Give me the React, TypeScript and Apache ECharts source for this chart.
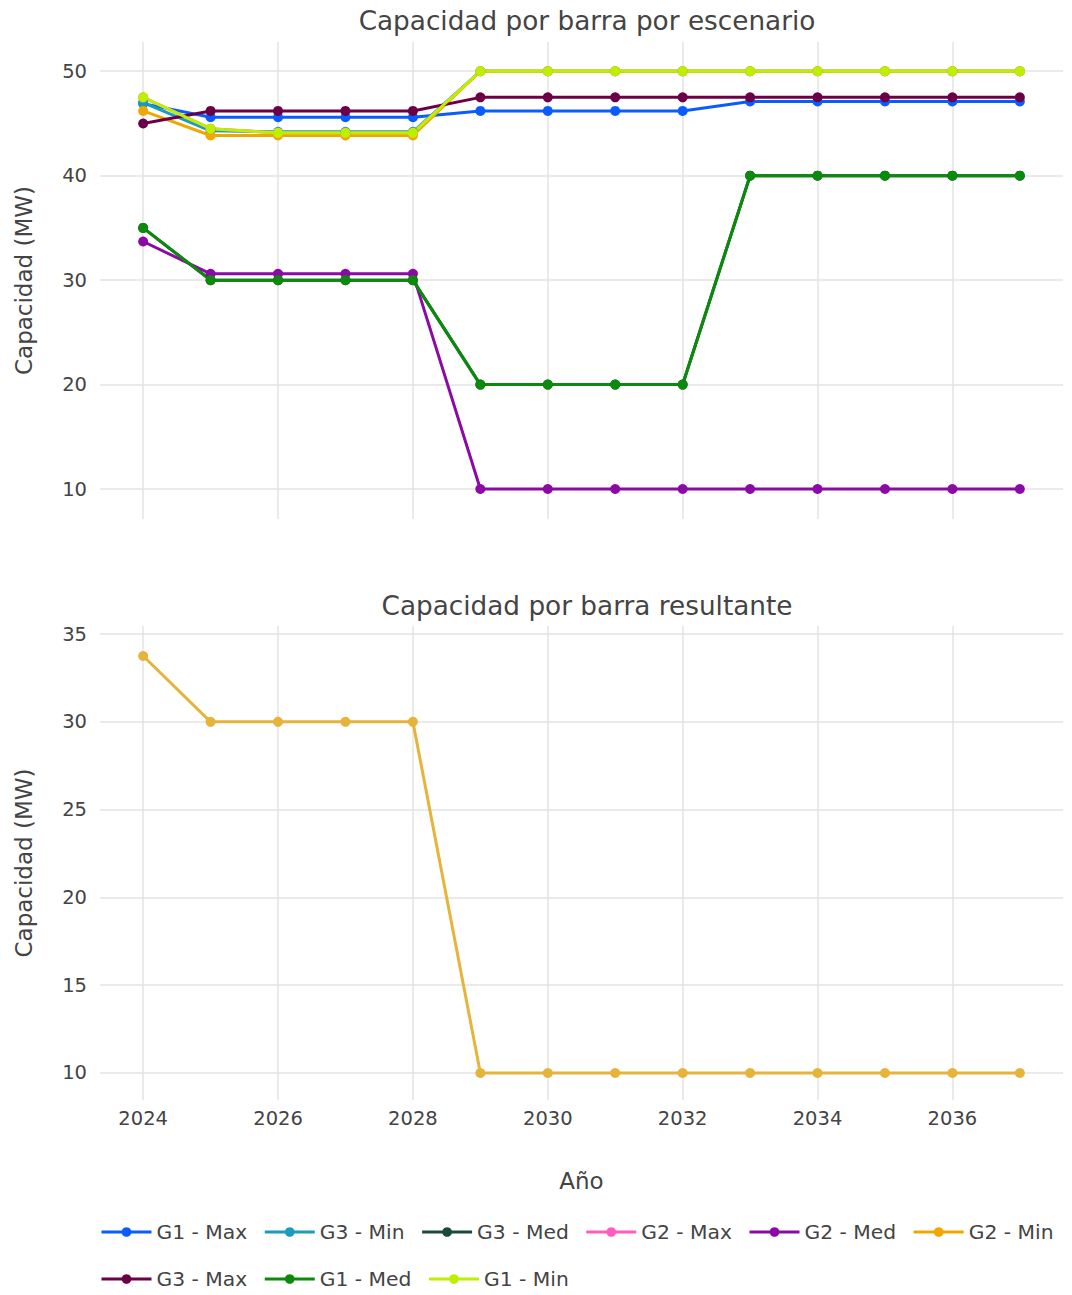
import React, { useEffect, useRef } from "react";
import * as echarts from "echarts";

const years = [2024, 2025, 2026, 2027, 2028, 2029, 2030, 2031, 2032, 2033, 2034, 2035, 2036, 2037];

const g1Max = [46.9, 45.6, 45.6, 45.6, 45.6, 46.2, 46.2, 46.2, 46.2, 47.1, 47.1, 47.1, 47.1, 47.1];
const g3Min = [47.0, 44.3, 44.2, 44.2, 44.2, 50, 50, 50, 50, 50, 50, 50, 50, 50];
const g3Med = [35, 30, 30, 30, 30, 20, 20, 20, 20, 40, 40, 40, 40, 40];
const g2Max = [47.5, 44.5, 44.1, 44.1, 44.1, 50, 50, 50, 50, 50, 50, 50, 50, 50];
const g2Med = [33.7, 30.6, 30.6, 30.6, 30.6, 10, 10, 10, 10, 10, 10, 10, 10, 10];
const g2Min = [46.2, 43.85, 43.85, 43.85, 43.85, 50, 50, 50, 50, 50, 50, 50, 50, 50];
const g3Max = [45.0, 46.2, 46.2, 46.2, 46.2, 47.5, 47.5, 47.5, 47.5, 47.5, 47.5, 47.5, 47.5, 47.5];
const g1Med = [35, 30, 30, 30, 30, 20, 20, 20, 20, 40, 40, 40, 40, 40];
const g1Min = [47.5, 44.5, 44.1, 44.1, 44.1, 50, 50, 50, 50, 50, 50, 50, 50, 50];

const resultante = [33.75, 30, 30, 30, 30, 10, 10, 10, 10, 10, 10, 10, 10, 10];

const scenarioNames = [
  "G1 - Max", "G3 - Min", "G3 - Med", "G2 - Max", "G2 - Med", "G2 - Min",
  "G3 - Max", "G1 - Med", "G1 - Min",
];
const scenarioValues = [g1Max, g3Min, g3Med, g2Max, g2Med, g2Min, g3Max, g1Med, g1Min];
const scenarioColors = [
  "#0a5cff", "#1a9dbd", "#1b4a38", "#ff5cbf", "#8b0aa5", "#f0a800",
  "#6c0046", "#0b8a0b", "#bdf000",
];
const resultColor = "#e6b43a";

const topTitle = "Capacidad por barra por escenario";
const bottomTitle = "Capacidad por barra resultante";
const yName = "Capacidad (MW)";
const xName = "Año";

const FONT = "DejaVu Sans";
const TXT = "#444";
const GRID = "#e3e3e3";

export default function App() {
  const ref = useRef<HTMLDivElement>(null);
  useEffect(() => {
    document.body.style.margin = "0";
    const chart = echarts.init(ref.current!, null, { renderer: "svg" });

    const xAxisBase = (gridIndex: number, showLabels: boolean) => ({
      type: "value",
      gridIndex,
      min: 2023.36,
      max: 2037.64,
      splitNumber: 7,
      minInterval: 2,
      maxInterval: 2,
      axisLine: { show: false },
      axisTick: { show: false },
      axisLabel: {
        show: showLabels,
        showMinLabel: false,
        showMaxLabel: false,
        fontFamily: FONT,
        fontSize: 19.5,
        color: TXT,
        margin: 8,
        formatter: (v: number) => (Number.isInteger(v) && v % 2 === 0 ? String(v) : ""),
      },
      splitLine: {
        show: true,
        showMinLine: false,
        showMaxLine: false,
        lineStyle: { color: GRID, width: 1.5 },
      },
    });

    const yAxisBase = (gridIndex: number, min: number, max: number, step: number) => ({
      type: "value",
      gridIndex,
      min,
      max,
      minInterval: step,
      maxInterval: step,
      splitNumber: Math.round((max - min) / step),
      name: yName,
      nameLocation: "middle",
      nameGap: 65,
      nameTextStyle: { fontFamily: FONT, fontSize: 23, color: TXT },
      axisLine: { show: false },
      axisTick: { show: false },
      axisLabel: {
        showMinLabel: false,
        showMaxLabel: false,
        fontFamily: FONT,
        fontSize: 19.5,
        color: TXT,
        margin: 13,
        formatter: (v: number) => (Math.abs(v / step - Math.round(v / step)) < 1e-6 ? String(Math.round(v)) : ""),
      },
      splitLine: {
        show: true,
        showMinLine: false,
        showMaxLine: false,
        lineStyle: { color: GRID, width: 1.5 },
      },
    });

    const scenarioSeries = scenarioNames.map((name, i) => ({
      name,
      type: "line",
      xAxisIndex: 0,
      yAxisIndex: 0,
      data: years.map((y, j) => [y, scenarioValues[i][j]]),
      symbol: "circle",
      symbolSize: 10,
      showSymbol: true,
      lineStyle: { width: 3, color: scenarioColors[i] },
      itemStyle: { color: scenarioColors[i] },
      emphasis: { disabled: true },
    }));

    const legendBase = {
      left: 100,
      padding: 0,
      itemWidth: 50,
      itemHeight: 12,
      itemGap: 16,
      lineStyle: { width: 3 },
      textStyle: { fontFamily: FONT, fontSize: 20.3, color: TXT },
    };

    const option: any = {
      animation: false,
      textStyle: { fontFamily: FONT },
      title: [
        {
          text: topTitle,
          left: 582,
          textAlign: "center",
          top: 3,
          textStyle: { fontFamily: FONT, fontSize: 26.3, fontWeight: "normal", color: TXT },
        },
        {
          text: bottomTitle,
          left: 582,
          textAlign: "center",
          top: 588,
          textStyle: { fontFamily: FONT, fontSize: 26.3, fontWeight: "normal", color: TXT },
        },
      ],
      grid: [
        { left: 100, right: 9, top: 42, height: 477 },
        { left: 100, right: 9, top: 626, height: 474 },
      ],
      xAxis: [
        xAxisBase(0, false),
        {
          ...xAxisBase(1, true),
          name: xName,
          nameLocation: "middle",
          nameGap: 69,
          nameTextStyle: { fontFamily: FONT, fontSize: 23, color: TXT },
        },
      ],
      yAxis: [yAxisBase(0, 7.13, 52.8, 10), yAxisBase(1, 8.46, 35.46, 5)],
      legend: [
        { ...legendBase, data: scenarioNames.slice(0, 6), top: 1222 },
        { ...legendBase, data: scenarioNames.slice(6), top: 1269 },
      ],
      series: [
        ...scenarioSeries,
        {
          name: "Resultante",
          type: "line",
          xAxisIndex: 1,
          yAxisIndex: 1,
          data: years.map((y, j) => [y, resultante[j]]),
          symbol: "circle",
          symbolSize: 10,
          lineStyle: { width: 3, color: resultColor },
          itemStyle: { color: resultColor },
          emphasis: { disabled: true },
        },
      ],
    };

    chart.setOption(option);
    return () => chart.dispose();
  }, []);
  return <div ref={ref} style={{ width: 1072, height: 1295 }} />;
}
